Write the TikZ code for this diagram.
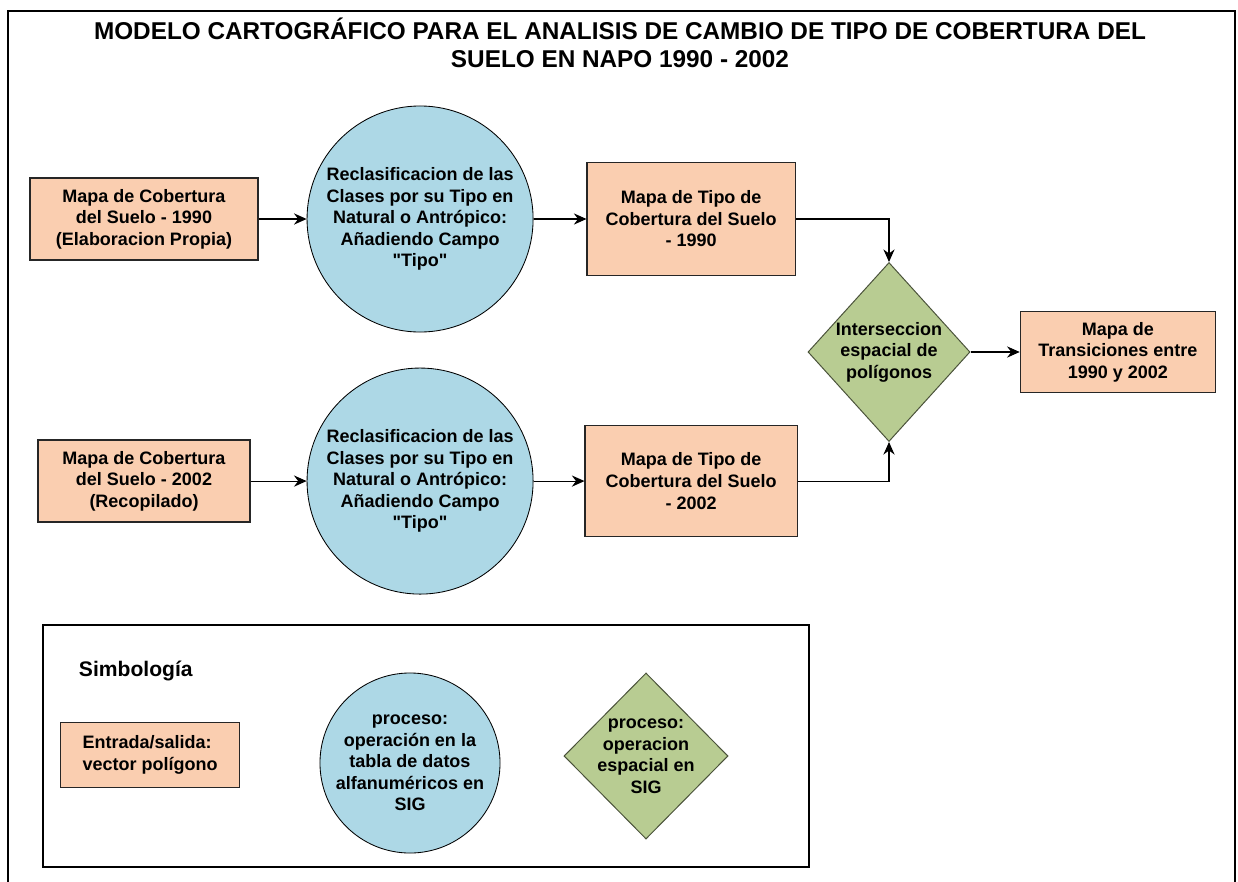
\documentclass[tikz,border=0pt]{standalone}
\usepackage{fontspec}
\setmainfont{Liberation Sans}
\usetikzlibrary{shapes,arrows.meta}
\definecolor{mapfill}{RGB}{250,206,176}
\definecolor{procfill}{RGB}{173,216,230}
\definecolor{spatfill}{RGB}{184,204,146}
\newcommand{\boxfont}{\bfseries\fontsize{12.8}{15.3}\selectfont}
\tikzstyle{mapbox} = [rectangle, draw=black!85, line width=0.9pt, fill=mapfill,
    align=center, inner sep=0pt, font=\boxfont]
\tikzstyle{tableop} = [circle, draw, line width=0.6pt, fill=procfill,
    align=center, inner sep=-2pt, font=\boxfont]
\tikzstyle{spatialop} = [diamond, draw=black!60!spatfill, line width=0.7pt, fill=spatfill,
    align=center, inner sep=-14pt, font=\boxfont]
\tikzstyle{line} = [draw, line width=0.8pt, -{Stealth[length=9pt,width=8pt,inset=3pt]}]

\begin{document}
\begin{tikzpicture}[x=0.025cm, y=-0.025cm, node distance = 6.9cm]
\useasboundingbox (0,0) rectangle (1238,882);
\draw [line width=1.5pt] (8,882) -- (8,11) -- (1235,11) -- (1235,882);
\node [font=\bfseries\fontsize{17.3}{20}\selectfont, align=center] (title) at (620,43)
    {MODELO CARTOGRÁFICO PARA EL ANALISIS DE CAMBIO DE TIPO DE COBERTURA DEL\\SUELO EN NAPO 1990 - 2002};
% fila 1990
\node [mapbox, minimum width=5.7cm, minimum height=2.05cm] (in90) at (144,219)
    {Mapa de Cobertura\\del Suelo - 1990\\(Elaboracion Propia)};
\node [tableop, right of=in90, minimum size=5.65cm] (rc90)
    {Reclasificacion de las\\Clases por su Tipo en\\Natural o Antrópico:\\Añadiendo Campo\\\textquotedbl Tipo\textquotedbl};
\node [mapbox, right of=rc90, node distance=6.775cm, minimum width=5.2cm, minimum height=2.825cm] (tipo90)
    {Mapa de Tipo de\\Cobertura del Suelo\\- 1990};
% fila 2002
\node [mapbox, below of=in90, node distance=6.55cm, minimum width=5.3cm, minimum height=2.05cm] (in02)
    {Mapa de Cobertura\\del Suelo - 2002\\(Recopilado)};
\node [tableop, right of=in02, minimum size=5.65cm] (rc02)
    {Reclasificacion de las\\Clases por su Tipo en\\Natural o Antrópico:\\Añadiendo Campo\\\textquotedbl Tipo\textquotedbl};
\node [mapbox, right of=rc02, node distance=6.775cm, minimum width=5.3cm, minimum height=2.775cm] (tipo02)
    {Mapa de Tipo de\\Cobertura del Suelo\\- 2002};
% interseccion
\node [spatialop, minimum width=4.05cm, minimum height=4.475cm] (inter) at (889,352)
    {Interseccion\\espacial de\\polígonos};
\node [mapbox, right of=inter, node distance=5.72cm, minimum width=4.875cm, minimum height=2.025cm] (trans)
    {Mapa de\\Transiciones entre\\1990 y 2002};
\path [line] (in90) -- (rc90);
\path [line] (rc90) -- (tipo90);
\path [line] (in02) -- (rc02);
\path [line] (rc02) -- (tipo02);
\path [line] (tipo90.east) -| (inter.north);
\path [line] (tipo02.east) -| (inter.south);
\path [line] (inter) -- (trans);
% simbologia
\draw [line width=0.9pt] (43,625) rectangle (809,867);
\node [anchor=west, font=\bfseries\fontsize{15}{18}\selectfont] (simb) at (74,671) {Simbología};
\node [mapbox, align=left, minimum width=4.475cm, minimum height=1.625cm] (symio) at (150,755)
    {Entrada/salida:\\vector polígono};
\node [tableop, minimum size=4.5cm] (symtab) at (410,763)
    {proceso:\\operación en la\\tabla de datos\\alfanuméricos en\\SIG};
\node [spatialop, minimum width=4.1cm, minimum height=4.15cm] (symspat) at (646,756)
    {proceso:\\operacion\\espacial en\\SIG};
\end{tikzpicture}
\end{document}
